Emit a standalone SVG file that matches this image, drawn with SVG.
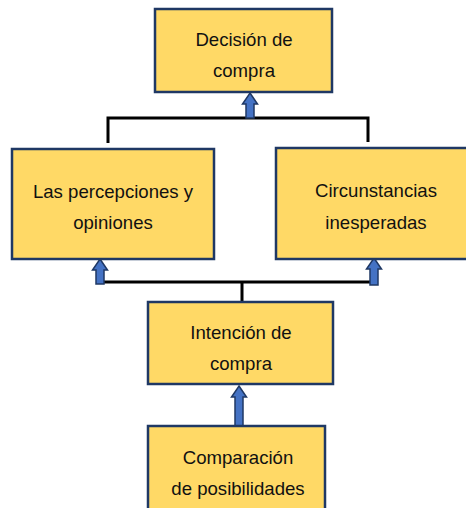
<svg xmlns="http://www.w3.org/2000/svg" width="466" height="508" viewBox="0 0 466 508">
<style>
.box{fill:#FFD966;stroke:#1F3864;stroke-width:2.5}
.t{font-family:"Liberation Sans",Arial,sans-serif;font-size:18.6px;fill:#111;text-anchor:middle}
.ln{fill:none;stroke:#000;stroke-width:3}
.ar{fill:#4472C4;stroke:#1F3864;stroke-width:1.5;stroke-linejoin:miter}
</style>
<rect width="466" height="508" fill="#fff"/>
<g id="connectors">
<path class="ln" d="M108,143 V118 H368 V142"/>
<path class="ln" d="M102,282 H372 M242,282 V302"/>
<path class="ar" d="M250,93 L257.5,104 L254,104 L254,118 L246,118 L246,104 L242.5,104 Z"/>
<path class="ar" d="M100,259 L107.5,270 L104,270 L104,284 L96,284 L96,270 L92.5,270 Z"/>
<path class="ar" d="M374,258 L381.5,269 L378,269 L378,285 L370,285 L370,269 L366.5,269 Z"/>
<path class="ar" d="M239,386 L246.5,397 L243,397 L243,427 L235,427 L235,397 L231.5,397 Z"/>
</g>
<g id="decision">
<rect class="box" x="155" y="9" width="177" height="83"/>
<text class="t" x="244" y="46">Decisión de</text>
<text class="t" x="244" y="77">compra</text>
</g>
<g id="percepciones">
<rect class="box" x="12" y="149" width="202" height="110"/>
<text class="t" x="113" y="198">Las percepciones y</text>
<text class="t" x="113" y="229">opiniones</text>
</g>
<g id="circunstancias">
<rect class="box" x="276" y="148" width="202" height="111"/>
<text class="t" x="376" y="197">Circunstancias</text>
<text class="t" x="376" y="229">inesperadas</text>
</g>
<g id="intencion">
<rect class="box" x="148" y="302" width="185" height="82"/>
<text class="t" x="241" y="339">Intención de</text>
<text class="t" x="241" y="370">compra</text>
</g>
<g id="comparacion">
<rect class="box" x="148" y="426" width="177" height="90"/>
<text class="t" x="238" y="464">Comparación</text>
<text class="t" x="238" y="495">de posibilidades</text>
</g>
</svg>
